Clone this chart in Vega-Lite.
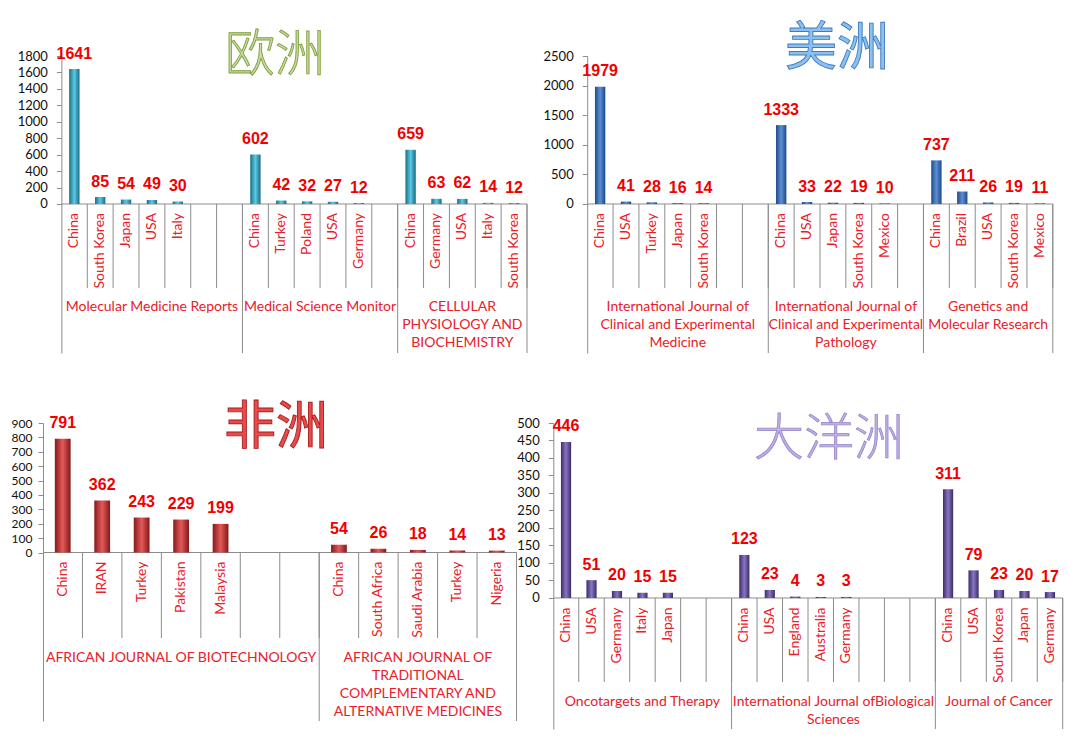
{
  "$schema": "https://vega.github.io/schema/vega-lite/v6.json",
  "autosize": {"type": "none"},
  "padding": {"left": 43, "top": 56, "right": 1026, "bottom": 689},
  "background": "white",
  "columns": 2,
  "bounds": "flush",
  "align": "none",
  "spacing": {"row": 70, "column": 26.3},
  "config": {
    "view": {"stroke": null},
    "axisY": {"domainColor": "#8C8C8C", "tickColor": "#8C8C8C", "tickSize": 5, "labelFont": "Lato", "labelFontSize": 13, "labelColor": "#111111", "labelPadding": 9, "grid": false}
  },
  "datasets": {
    "eu": [
      {"journal": "Molecular Medicine Reports", "country": "China", "n": 1641},
      {"journal": "Molecular Medicine Reports", "country": "South Korea", "n": 85},
      {"journal": "Molecular Medicine Reports", "country": "Japan", "n": 54},
      {"journal": "Molecular Medicine Reports", "country": "USA", "n": 49},
      {"journal": "Molecular Medicine Reports", "country": "Italy", "n": 30},
      {"journal": "Molecular Medicine Reports", "country": "", "n": null},
      {"journal": "Molecular Medicine Reports", "country": "", "n": null},
      {"journal": "Medical Science Monitor", "country": "China", "n": 602},
      {"journal": "Medical Science Monitor", "country": "Turkey", "n": 42},
      {"journal": "Medical Science Monitor", "country": "Poland", "n": 32},
      {"journal": "Medical Science Monitor", "country": "USA", "n": 27},
      {"journal": "Medical Science Monitor", "country": "Germany", "n": 12},
      {"journal": "Medical Science Monitor", "country": "", "n": null},
      {"journal": "CELLULAR\nPHYSIOLOGY AND\nBIOCHEMISTRY", "country": "China", "n": 659},
      {"journal": "CELLULAR\nPHYSIOLOGY AND\nBIOCHEMISTRY", "country": "Germany", "n": 63},
      {"journal": "CELLULAR\nPHYSIOLOGY AND\nBIOCHEMISTRY", "country": "USA", "n": 62},
      {"journal": "CELLULAR\nPHYSIOLOGY AND\nBIOCHEMISTRY", "country": "Italy", "n": 14},
      {"journal": "CELLULAR\nPHYSIOLOGY AND\nBIOCHEMISTRY", "country": "South Korea", "n": 12}
    ],
    "am": [
      {"journal": "International Journal of\nClinical and Experimental\nMedicine", "country": "China", "n": 1979},
      {"journal": "International Journal of\nClinical and Experimental\nMedicine", "country": "USA", "n": 41},
      {"journal": "International Journal of\nClinical and Experimental\nMedicine", "country": "Turkey", "n": 28},
      {"journal": "International Journal of\nClinical and Experimental\nMedicine", "country": "Japan", "n": 16},
      {"journal": "International Journal of\nClinical and Experimental\nMedicine", "country": "South Korea", "n": 14},
      {"journal": "International Journal of\nClinical and Experimental\nMedicine", "country": "", "n": null},
      {"journal": "International Journal of\nClinical and Experimental\nMedicine", "country": "", "n": null},
      {"journal": "International Journal of\nClinical and Experimental\nPathology", "country": "China", "n": 1333},
      {"journal": "International Journal of\nClinical and Experimental\nPathology", "country": "USA", "n": 33},
      {"journal": "International Journal of\nClinical and Experimental\nPathology", "country": "Japan", "n": 22},
      {"journal": "International Journal of\nClinical and Experimental\nPathology", "country": "South Korea", "n": 19},
      {"journal": "International Journal of\nClinical and Experimental\nPathology", "country": "Mexico", "n": 10},
      {"journal": "International Journal of\nClinical and Experimental\nPathology", "country": "", "n": null},
      {"journal": "Genetics and\nMolecular Research", "country": "China", "n": 737},
      {"journal": "Genetics and\nMolecular Research", "country": "Brazil", "n": 211},
      {"journal": "Genetics and\nMolecular Research", "country": "USA", "n": 26},
      {"journal": "Genetics and\nMolecular Research", "country": "South Korea", "n": 19},
      {"journal": "Genetics and\nMolecular Research", "country": "Mexico", "n": 11}
    ],
    "af": [
      {"journal": "AFRICAN JOURNAL OF BIOTECHNOLOGY", "country": "China", "n": 791},
      {"journal": "AFRICAN JOURNAL OF BIOTECHNOLOGY", "country": "IRAN", "n": 362},
      {"journal": "AFRICAN JOURNAL OF BIOTECHNOLOGY", "country": "Turkey", "n": 243},
      {"journal": "AFRICAN JOURNAL OF BIOTECHNOLOGY", "country": "Pakistan", "n": 229},
      {"journal": "AFRICAN JOURNAL OF BIOTECHNOLOGY", "country": "Malaysia", "n": 199},
      {"journal": "AFRICAN JOURNAL OF BIOTECHNOLOGY", "country": "", "n": null},
      {"journal": "AFRICAN JOURNAL OF BIOTECHNOLOGY", "country": "", "n": null},
      {"journal": "AFRICAN JOURNAL OF\nTRADITIONAL\nCOMPLEMENTARY AND\nALTERNATIVE MEDICINES", "country": "China", "n": 54},
      {"journal": "AFRICAN JOURNAL OF\nTRADITIONAL\nCOMPLEMENTARY AND\nALTERNATIVE MEDICINES", "country": "South Africa", "n": 26},
      {"journal": "AFRICAN JOURNAL OF\nTRADITIONAL\nCOMPLEMENTARY AND\nALTERNATIVE MEDICINES", "country": "Saudi Arabia", "n": 18},
      {"journal": "AFRICAN JOURNAL OF\nTRADITIONAL\nCOMPLEMENTARY AND\nALTERNATIVE MEDICINES", "country": "Turkey", "n": 14},
      {"journal": "AFRICAN JOURNAL OF\nTRADITIONAL\nCOMPLEMENTARY AND\nALTERNATIVE MEDICINES", "country": "Nigeria", "n": 13}
    ],
    "oc": [
      {"journal": "Oncotargets and Therapy", "country": "China", "n": 446},
      {"journal": "Oncotargets and Therapy", "country": "USA", "n": 51},
      {"journal": "Oncotargets and Therapy", "country": "Germany", "n": 20},
      {"journal": "Oncotargets and Therapy", "country": "Italy", "n": 15},
      {"journal": "Oncotargets and Therapy", "country": "Japan", "n": 15},
      {"journal": "Oncotargets and Therapy", "country": "", "n": null},
      {"journal": "Oncotargets and Therapy", "country": "", "n": null},
      {"journal": "International Journal ofBiological\nSciences", "country": "China", "n": 123},
      {"journal": "International Journal ofBiological\nSciences", "country": "USA", "n": 23},
      {"journal": "International Journal ofBiological\nSciences", "country": "England", "n": 4},
      {"journal": "International Journal ofBiological\nSciences", "country": "Australia", "n": 3},
      {"journal": "International Journal ofBiological\nSciences", "country": "Germany", "n": 3},
      {"journal": "International Journal ofBiological\nSciences", "country": "", "n": null},
      {"journal": "International Journal ofBiological\nSciences", "country": "", "n": null},
      {"journal": "International Journal ofBiological\nSciences", "country": "", "n": null},
      {"journal": "Journal of Cancer", "country": "China", "n": 311},
      {"journal": "Journal of Cancer", "country": "USA", "n": 79},
      {"journal": "Journal of Cancer", "country": "South Korea", "n": 23},
      {"journal": "Journal of Cancer", "country": "Japan", "n": 20},
      {"journal": "Journal of Cancer", "country": "Germany", "n": 17}
    ]
  },
  "concat": [
    {
      "width": 484, "height": 297,
      "data": {"name": "eu"},
      "transform": [
        {"window": [{"op": "row_number", "as": "slot"}]},
        {"calculate": "datum.slot - 0.5", "as": "xc"},
        {"calculate": "datum.slot - 0.7", "as": "xa"},
        {"calculate": "datum.slot - 0.3", "as": "xb"},
        {"calculate": "0", "as": "y0"},
        {"calculate": "-1021.6", "as": "ytick"},
        {"calculate": "-1812.2", "as": "ybot"}
      ],
      "layer": [
        {
          "transform": [{"aggregate": [{"op": "max", "field": "slot", "as": "N"}, {"op": "min", "field": "y0", "as": "y0"}]}, {"calculate": "0", "as": "x0"}],
          "mark": {"type": "rule", "color": "#8C8C8C"},
          "encoding": {
            "x": {"field": "x0", "type": "quantitative", "scale": {"domain": [-0.7113, 18], "nice": false, "zero": false}, "axis": null},
            "x2": {"field": "N"},
            "y": {"field": "y0", "type": "quantitative", "title": null, "scale": {"domain": [-1812.2, 1800], "nice": false, "zero": false}, "axis": {"values": [0, 200, 400, 600, 800, 1000, 1200, 1400, 1600, 1800], "tickCount": 40, "offset": -18.4, "title": null, "labelOverlap": false, "format": "d"}}
          }
        },
        {
          "mark": {"type": "rule", "color": "#8C8C8C"},
          "encoding": {
            "x": {"field": "slot", "type": "quantitative", "axis": null},
            "y": {"field": "y0", "type": "quantitative", "title": null},
            "y2": {"field": "ytick"}
          }
        },
        {
          "transform": [{"aggregate": [{"op": "max", "field": "slot", "as": "s1"}, {"op": "min", "field": "y0", "as": "y0"}, {"op": "min", "field": "ybot", "as": "ybot"}], "groupby": ["journal"]}],
          "mark": {"type": "rule", "color": "#8C8C8C"},
          "encoding": {
            "x": {"field": "s1", "type": "quantitative", "axis": null},
            "y": {"field": "y0", "type": "quantitative", "title": null},
            "y2": {"field": "ybot"}
          }
        },
        {
          "transform": [{"aggregate": [{"op": "min", "field": "slot", "as": "s0"}, {"op": "max", "field": "slot", "as": "s1"}, {"op": "min", "field": "y0", "as": "y0"}], "groupby": ["journal"]}, {"calculate": "(datum.s0 - 1 + datum.s1) / 2", "as": "mid"}],
          "mark": {"type": "text", "font": "Lato", "fontSize": 14, "color": "#E8202A", "baseline": "top", "align": "center", "lineBreak": "\n", "lineHeight": 18, "dy": 96},
          "encoding": {
            "x": {"field": "mid", "type": "quantitative", "axis": null},
            "y": {"field": "y0", "type": "quantitative", "title": null},
            "text": {"field": "journal", "type": "nominal"}
          }
        },
        {
          "transform": [{"filter": "datum.n != null"}],
          "mark": {"type": "bar", "color": {"gradient": "linear", "x1": 0, "x2": 1, "y1": 0, "y2": 0, "stops": [{"offset": 0, "color": "#1B6E85"}, {"offset": 0.5, "color": "#5ACAE4"}, {"offset": 1, "color": "#1A6A80"}]}},
          "encoding": {
            "x": {"field": "xa", "type": "quantitative", "axis": null},
            "x2": {"field": "xb"},
            "y": {"field": "n", "type": "quantitative", "title": null},
            "y2": {"field": "y0"}
          }
        },
        {
          "transform": [{"filter": "datum.n != null"}],
          "mark": {"type": "text", "font": "Liberation Sans", "fontWeight": "bold", "fontSize": 16, "color": "#F00000", "baseline": "alphabetic", "dy": -10.5},
          "encoding": {
            "x": {"field": "xc", "type": "quantitative", "axis": null},
            "y": {"field": "n", "type": "quantitative", "title": null},
            "text": {"field": "n", "type": "nominal"}
          }
        },
        {
          "transform": [{"filter": "datum.country != ''"}],
          "mark": {"type": "text", "font": "Lato", "fontSize": 14, "color": "#E8202A", "angle": 270, "align": "right", "baseline": "middle", "dx": -9},
          "encoding": {
            "x": {"field": "xc", "type": "quantitative", "axis": null},
            "y": {"field": "y0", "type": "quantitative", "title": null},
            "text": {"field": "country", "type": "nominal"}
          }
        },
        {
          "data": {"values": [{"t": "欧洲", "tx": 8.257, "ty": 1800}]},
          "mark": {"type": "text", "font": "Noto Sans CJK SC", "fontWeight": 300, "fontSize": 50, "color": "#C9DBA4", "stroke": "#7FA03C", "strokeWidth": 0.9, "baseline": "middle", "align": "center"},
          "encoding": {
            "x": {"field": "tx", "type": "quantitative", "axis": null},
            "y": {"field": "ty", "type": "quantitative", "title": null},
            "text": {"field": "t", "type": "nominal"}
          }
        }
      ]
    },
    {
      "width": 499.5, "height": 297,
      "data": {"name": "am"},
      "transform": [
        {"window": [{"op": "row_number", "as": "slot"}]},
        {"calculate": "datum.slot - 0.5", "as": "xc"},
        {"calculate": "datum.slot - 0.7", "as": "xa"},
        {"calculate": "datum.slot - 0.3", "as": "xb"},
        {"calculate": "0", "as": "y0"},
        {"calculate": "-1418.9", "as": "ytick"},
        {"calculate": "-2516.9", "as": "ybot"}
      ],
      "layer": [
        {
          "transform": [{"aggregate": [{"op": "max", "field": "slot", "as": "N"}, {"op": "min", "field": "y0", "as": "y0"}]}, {"calculate": "0", "as": "x0"}],
          "mark": {"type": "rule", "color": "#8C8C8C"},
          "encoding": {
            "x": {"field": "x0", "type": "quantitative", "scale": {"domain": [-1.3106, 18], "nice": false, "zero": false}, "axis": null},
            "x2": {"field": "N"},
            "y": {"field": "y0", "type": "quantitative", "title": null, "scale": {"domain": [-2516.9, 2500], "nice": false, "zero": false}, "axis": {"values": [0, 500, 1000, 1500, 2000, 2500], "tickCount": 40, "offset": -33.9, "title": null, "labelOverlap": false, "format": "d"}}
          }
        },
        {
          "mark": {"type": "rule", "color": "#8C8C8C"},
          "encoding": {
            "x": {"field": "slot", "type": "quantitative", "axis": null},
            "y": {"field": "y0", "type": "quantitative", "title": null},
            "y2": {"field": "ytick"}
          }
        },
        {
          "transform": [{"aggregate": [{"op": "max", "field": "slot", "as": "s1"}, {"op": "min", "field": "y0", "as": "y0"}, {"op": "min", "field": "ybot", "as": "ybot"}], "groupby": ["journal"]}],
          "mark": {"type": "rule", "color": "#8C8C8C"},
          "encoding": {
            "x": {"field": "s1", "type": "quantitative", "axis": null},
            "y": {"field": "y0", "type": "quantitative", "title": null},
            "y2": {"field": "ybot"}
          }
        },
        {
          "transform": [{"aggregate": [{"op": "min", "field": "slot", "as": "s0"}, {"op": "max", "field": "slot", "as": "s1"}, {"op": "min", "field": "y0", "as": "y0"}], "groupby": ["journal"]}, {"calculate": "(datum.s0 - 1 + datum.s1) / 2", "as": "mid"}],
          "mark": {"type": "text", "font": "Lato", "fontSize": 14, "color": "#E8202A", "baseline": "top", "align": "center", "lineBreak": "\n", "lineHeight": 18, "dy": 96},
          "encoding": {
            "x": {"field": "mid", "type": "quantitative", "axis": null},
            "y": {"field": "y0", "type": "quantitative", "title": null},
            "text": {"field": "journal", "type": "nominal"}
          }
        },
        {
          "transform": [{"filter": "datum.n != null"}],
          "mark": {"type": "bar", "color": {"gradient": "linear", "x1": 0, "x2": 1, "y1": 0, "y2": 0, "stops": [{"offset": 0, "color": "#1F4C8A"}, {"offset": 0.5, "color": "#5B8FD6"}, {"offset": 1, "color": "#1D4984"}]}},
          "encoding": {
            "x": {"field": "xa", "type": "quantitative", "axis": null},
            "x2": {"field": "xb"},
            "y": {"field": "n", "type": "quantitative", "title": null},
            "y2": {"field": "y0"}
          }
        },
        {
          "transform": [{"filter": "datum.n != null"}],
          "mark": {"type": "text", "font": "Liberation Sans", "fontWeight": "bold", "fontSize": 16, "color": "#F00000", "baseline": "alphabetic", "dy": -10.5},
          "encoding": {
            "x": {"field": "xc", "type": "quantitative", "axis": null},
            "y": {"field": "n", "type": "quantitative", "title": null},
            "text": {"field": "n", "type": "nominal"}
          }
        },
        {
          "transform": [{"filter": "datum.country != ''"}],
          "mark": {"type": "text", "font": "Lato", "fontSize": 14, "color": "#E8202A", "angle": 270, "align": "right", "baseline": "middle", "dx": -9},
          "encoding": {
            "x": {"field": "xc", "type": "quantitative", "axis": null},
            "y": {"field": "y0", "type": "quantitative", "title": null},
            "text": {"field": "country", "type": "nominal"}
          }
        },
        {
          "data": {"values": [{"t": "美洲", "tx": 9.656, "ty": 2618}]},
          "mark": {"type": "text", "font": "Noto Sans CJK SC", "fontSize": 52, "color": "#8CC0F0", "stroke": "#3F7CC0", "strokeWidth": 0.9, "baseline": "middle", "align": "center"},
          "encoding": {
            "x": {"field": "tx", "type": "quantitative", "axis": null},
            "y": {"field": "ty", "type": "quantitative", "title": null},
            "text": {"field": "t", "type": "nominal"}
          }
        }
      ]
    },
    {
      "width": 473.5, "height": 298,
      "data": {"name": "af"},
      "transform": [
        {"window": [{"op": "row_number", "as": "slot"}]},
        {"calculate": "datum.slot - 0.5", "as": "xc"},
        {"calculate": "datum.slot - 0.7", "as": "xa"},
        {"calculate": "datum.slot - 0.3", "as": "xb"},
        {"calculate": "0", "as": "y0"},
        {"calculate": "-594.2", "as": "ytick"},
        {"calculate": "-1171.0", "as": "ybot"}
      ],
      "layer": [
        {
          "transform": [{"aggregate": [{"op": "max", "field": "slot", "as": "N"}, {"op": "min", "field": "y0", "as": "y0"}]}, {"calculate": "0", "as": "x0"}],
          "mark": {"type": "rule", "color": "#8C8C8C"},
          "encoding": {
            "x": {"field": "x0", "type": "quantitative", "scale": {"domain": [0, 12], "nice": false, "zero": false}, "axis": null},
            "x2": {"field": "N"},
            "y": {"field": "y0", "type": "quantitative", "title": null, "scale": {"domain": [-1171.0, 900], "nice": false, "zero": false}, "axis": {"values": [0, 100, 200, 300, 400, 500, 600, 700, 800, 900], "tickCount": 40, "labelPadding": 6, "labelFontSize": 12, "title": null, "labelOverlap": false, "format": "d"}}
          }
        },
        {
          "mark": {"type": "rule", "color": "#8C8C8C"},
          "encoding": {
            "x": {"field": "slot", "type": "quantitative", "axis": null},
            "y": {"field": "y0", "type": "quantitative", "title": null},
            "y2": {"field": "ytick"}
          }
        },
        {
          "transform": [{"aggregate": [{"op": "max", "field": "slot", "as": "s1"}, {"op": "min", "field": "y0", "as": "y0"}, {"op": "min", "field": "ybot", "as": "ybot"}], "groupby": ["journal"]}],
          "mark": {"type": "rule", "color": "#8C8C8C"},
          "encoding": {
            "x": {"field": "s1", "type": "quantitative", "axis": null},
            "y": {"field": "y0", "type": "quantitative", "title": null},
            "y2": {"field": "ybot"}
          }
        },
        {
          "transform": [{"aggregate": [{"op": "min", "field": "slot", "as": "s0"}, {"op": "max", "field": "slot", "as": "s1"}, {"op": "min", "field": "y0", "as": "y0"}], "groupby": ["journal"]}, {"calculate": "(datum.s0 - 1 + datum.s1) / 2", "as": "mid"}],
          "mark": {"type": "text", "font": "Lato", "fontSize": 14, "color": "#E8202A", "baseline": "top", "align": "center", "lineBreak": "\n", "lineHeight": 18, "dy": 98},
          "encoding": {
            "x": {"field": "mid", "type": "quantitative", "axis": null},
            "y": {"field": "y0", "type": "quantitative", "title": null},
            "text": {"field": "journal", "type": "nominal"}
          }
        },
        {
          "transform": [{"filter": "datum.n != null"}],
          "mark": {"type": "bar", "color": {"gradient": "linear", "x1": 0, "x2": 1, "y1": 0, "y2": 0, "stops": [{"offset": 0, "color": "#8A1818"}, {"offset": 0.5, "color": "#E25A5A"}, {"offset": 1, "color": "#861616"}]}},
          "encoding": {
            "x": {"field": "xa", "type": "quantitative", "axis": null},
            "x2": {"field": "xb"},
            "y": {"field": "n", "type": "quantitative", "title": null},
            "y2": {"field": "y0"}
          }
        },
        {
          "transform": [{"filter": "datum.n != null"}],
          "mark": {"type": "text", "font": "Liberation Sans", "fontWeight": "bold", "fontSize": 16, "color": "#F00000", "baseline": "alphabetic", "dy": -10.5},
          "encoding": {
            "x": {"field": "xc", "type": "quantitative", "axis": null},
            "y": {"field": "n", "type": "quantitative", "title": null},
            "text": {"field": "n", "type": "nominal"}
          }
        },
        {
          "transform": [{"filter": "datum.country != ''"}],
          "mark": {"type": "text", "font": "Lato", "fontSize": 14, "color": "#E8202A", "angle": 270, "align": "right", "baseline": "middle", "dx": -9},
          "encoding": {
            "x": {"field": "xc", "type": "quantitative", "axis": null},
            "y": {"field": "y0", "type": "quantitative", "title": null},
            "text": {"field": "country", "type": "nominal"}
          }
        },
        {
          "data": {"values": [{"t": "非洲", "tx": 5.905, "ty": 865.3}]},
          "mark": {"type": "text", "font": "Noto Sans CJK SC", "fontSize": 52, "color": "#E64C4C", "stroke": "#A81C1C", "strokeWidth": 0.9, "baseline": "middle", "align": "center"},
          "encoding": {
            "x": {"field": "tx", "type": "quantitative", "axis": null},
            "y": {"field": "ty", "type": "quantitative", "title": null},
            "text": {"field": "t", "type": "nominal"}
          }
        }
      ]
    },
    {
      "width": 509.4, "height": 306,
      "data": {"name": "oc"},
      "transform": [
        {"window": [{"op": "row_number", "as": "slot"}]},
        {"calculate": "datum.slot - 0.5", "as": "xc"},
        {"calculate": "datum.slot - 0.7", "as": "xa"},
        {"calculate": "datum.slot - 0.3", "as": "xb"},
        {"calculate": "0", "as": "y0"},
        {"calculate": "-240", "as": "ytick"},
        {"calculate": "-374.3", "as": "ybot"}
      ],
      "layer": [
        {
          "transform": [{"aggregate": [{"op": "max", "field": "slot", "as": "N"}, {"op": "min", "field": "y0", "as": "y0"}]}, {"calculate": "0", "as": "x0"}],
          "mark": {"type": "rule", "color": "#8C8C8C"},
          "encoding": {
            "x": {"field": "x0", "type": "quantitative", "scale": {"domain": [0, 20], "nice": false, "zero": false}, "axis": null},
            "x2": {"field": "N"},
            "y": {"field": "y0", "type": "quantitative", "title": null, "scale": {"domain": [-374.3, 500], "nice": false, "zero": false}, "axis": {"values": [0, 50, 100, 150, 200, 250, 300, 350, 400, 450, 500], "tickCount": 40, "title": null, "labelOverlap": false, "format": "d"}}
          }
        },
        {
          "mark": {"type": "rule", "color": "#8C8C8C"},
          "encoding": {
            "x": {"field": "slot", "type": "quantitative", "axis": null},
            "y": {"field": "y0", "type": "quantitative", "title": null},
            "y2": {"field": "ytick"}
          }
        },
        {
          "transform": [{"aggregate": [{"op": "max", "field": "slot", "as": "s1"}, {"op": "min", "field": "y0", "as": "y0"}, {"op": "min", "field": "ybot", "as": "ybot"}], "groupby": ["journal"]}],
          "mark": {"type": "rule", "color": "#8C8C8C"},
          "encoding": {
            "x": {"field": "s1", "type": "quantitative", "axis": null},
            "y": {"field": "y0", "type": "quantitative", "title": null},
            "y2": {"field": "ybot"}
          }
        },
        {
          "transform": [{"aggregate": [{"op": "min", "field": "slot", "as": "s0"}, {"op": "max", "field": "slot", "as": "s1"}, {"op": "min", "field": "y0", "as": "y0"}], "groupby": ["journal"]}, {"calculate": "(datum.s0 - 1 + datum.s1) / 2", "as": "mid"}],
          "mark": {"type": "text", "font": "Lato", "fontSize": 14, "color": "#E8202A", "baseline": "top", "align": "center", "lineBreak": "\n", "lineHeight": 18, "dy": 96.7},
          "encoding": {
            "x": {"field": "mid", "type": "quantitative", "axis": null},
            "y": {"field": "y0", "type": "quantitative", "title": null},
            "text": {"field": "journal", "type": "nominal"}
          }
        },
        {
          "transform": [{"filter": "datum.n != null"}],
          "mark": {"type": "bar", "color": {"gradient": "linear", "x1": 0, "x2": 1, "y1": 0, "y2": 0, "stops": [{"offset": 0, "color": "#3D2D6A"}, {"offset": 0.5, "color": "#8A74C2"}, {"offset": 1, "color": "#3A2B66"}]}},
          "encoding": {
            "x": {"field": "xa", "type": "quantitative", "axis": null},
            "x2": {"field": "xb"},
            "y": {"field": "n", "type": "quantitative", "title": null},
            "y2": {"field": "y0"}
          }
        },
        {
          "transform": [{"filter": "datum.n != null"}],
          "mark": {"type": "text", "font": "Liberation Sans", "fontWeight": "bold", "fontSize": 16, "color": "#F00000", "baseline": "alphabetic", "dy": -10.5},
          "encoding": {
            "x": {"field": "xc", "type": "quantitative", "axis": null},
            "y": {"field": "n", "type": "quantitative", "title": null},
            "text": {"field": "n", "type": "nominal"}
          }
        },
        {
          "transform": [{"filter": "datum.country != ''"}],
          "mark": {"type": "text", "font": "Lato", "fontSize": 14, "color": "#E8202A", "angle": 270, "align": "right", "baseline": "middle", "dx": -9.5},
          "encoding": {
            "x": {"field": "xc", "type": "quantitative", "axis": null},
            "y": {"field": "y0", "type": "quantitative", "title": null},
            "text": {"field": "country", "type": "nominal"}
          }
        },
        {
          "data": {"values": [{"t": "大洋洲", "tx": 10.82, "ty": 451.4}]},
          "mark": {"type": "text", "font": "Noto Sans CJK SC", "fontWeight": 300, "fontSize": 50, "color": "#BDAEE3", "stroke": "#9480C8", "strokeWidth": 0.7, "baseline": "middle", "align": "center"},
          "encoding": {
            "x": {"field": "tx", "type": "quantitative", "axis": null},
            "y": {"field": "ty", "type": "quantitative", "title": null},
            "text": {"field": "t", "type": "nominal"}
          }
        }
      ]
    }
  ]
}
